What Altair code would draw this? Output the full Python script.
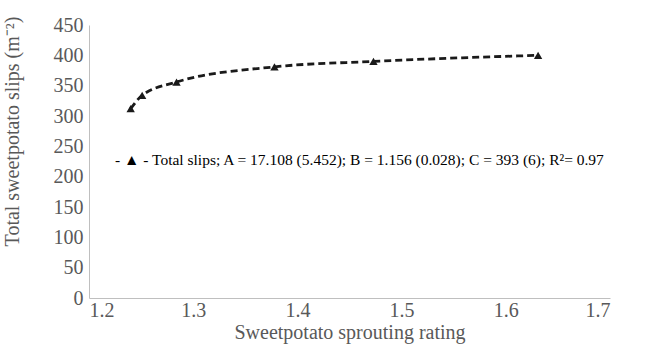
import altair as alt
import pandas as pd

rating = [1.240, 1.251, 1.284, 1.378, 1.473, 1.631]
slips = [312, 334, 356, 381, 390, 400]
legend_text = ["- \u25B2 - Total slips; A = 17.108 (5.452); B = 1.156 (0.028); C = 393 (6); R\u00B2= 0.97"]
x_ticks = [1.2, 1.3, 1.4, 1.5, 1.6, 1.7]
y_ticks = [0, 50, 100, 150, 200, 250, 300, 350, 400, 450]

df = pd.DataFrame({"rating": rating, "slips": slips})
tdf = pd.DataFrame({"label": legend_text})

FONT = "Liberation Serif"
GREY = "#595959"

x_enc = alt.X("rating:Q",
              scale=alt.Scale(domain=[1.2, 1.7], nice=False, zero=False),
              axis=alt.Axis(values=x_ticks, format=".1f", tickCount=6,
                            title="Sweetpotato sprouting rating",
                            grid=False, ticks=False, domainColor="#bfbfbf",
                            labelOverlap=False, labelBound=False,
                            labelFont=FONT, labelFontSize=20, labelColor=GREY,
                            labelPadding=2, titleFont=FONT, titleFontSize=20,
                            titleFontWeight="normal", titleColor=GREY, titlePadding=2))
y_enc = alt.Y("slips:Q",
              scale=alt.Scale(domain=[0, 450], nice=False),
              axis=alt.Axis(values=y_ticks, tickCount=10, format="d",
                            title="Total sweetpotato slips (m\u207B\u00B2)",
                            grid=False, ticks=False, domainColor="#bfbfbf",
                            labelOverlap=False, labelBound=False,
                            labelFont=FONT, labelFontSize=20, labelColor=GREY,
                            labelPadding=6, titleFont=FONT, titleFontSize=20,
                            titleFontWeight="normal", titleColor=GREY,
                            titleX=-67, titleY=106))

line = alt.Chart(df).mark_line(color="#1a1a1a", strokeWidth=2.8,
                               strokeDash=[7, 4], interpolate="monotone").encode(x=x_enc, y=y_enc)
pts = alt.Chart(df).mark_point(shape="triangle-up", filled=True, color="#1a1a1a",
                               size=70, opacity=1).encode(x=x_enc, y=y_enc)
txt = alt.Chart(tdf).mark_text(align="left", baseline="middle", font=FONT,
                               fontSize=15.5, color="#000000").encode(
    x=alt.value(26), y=alt.value(135), text="label:N")

chart = alt.layer(line, pts, txt).properties(
    width=521, height=273,
    background="white",
    autosize=alt.AutoSizeParams(type="none"),
    padding={"left": 89, "top": 25, "right": 40, "bottom": 60},
).configure_view(strokeWidth=0, stroke=None).configure_axis(labelOverlap=False)

chart.save("out.html", embed_options={"renderer": "svg", "actions": False})
